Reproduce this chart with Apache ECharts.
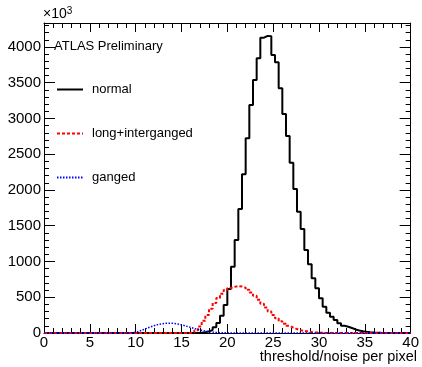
<!DOCTYPE html>
<html>
<head>
<meta charset="utf-8">
<script src="https://cdn.jsdelivr.net/npm/echarts@6/dist/echarts.min.js"></script>
<style>
  html, body { margin: 0; padding: 0; background: #fff; }
  #main { width: 422px; height: 367px; }
</style>
</head>
<body>
<div id="main"></div>
<script>
// histogram: 100 bins of 0.4 from 0 to 40, counts in units of 10^3
var binWidth = 0.4;
var nBins = 100;

// normal pixels, first non-empty bin = 42
var normalStart = 42;
var normalCounts = [5, 10, 20, 45, 80, 140, 240, 390, 615, 927,
  1300, 1734, 2219, 2723, 3189, 3538, 3842, 4130, 4155, 4150,
  3888, 3786, 3422, 3063, 2755, 2382, 2014, 1697, 1455, 1161,
  960, 765, 625, 485, 368, 284, 228, 182, 136, 102,
  88, 70, 50, 35, 25, 16, 10, 6, 4, 2, 1];

// long + interganged pixels, first bin = 40
var longStart = 40;
var longCounts = [10, 40, 90, 170, 250, 340, 420, 490, 550, 600,
  630, 645, 655, 650, 635, 605, 565, 520, 465, 410,
  355, 300, 250, 205, 165, 130, 100, 75, 55, 40,
  28, 20, 13, 8, 5, 3];

// ganged pixels, first bin = 23
var gangedStart = 23;
var gangedCounts = [3, 10, 25, 45, 65, 85, 102, 117, 128, 135,
  138, 136, 130, 120, 107, 93, 78, 63, 50, 38,
  28, 20, 13, 8, 5, 3, 2, 1];

var legendNames = ['normal', 'long+interganged', 'ganged'];

function histData(start, counts) {
  var out = [];
  var v = 0;
  for (var k = 0; k < nBins; k++) {
    v = (k >= start && k < start + counts.length) ? counts[k - start] : 0;
    out.push([+(k * binWidth).toFixed(1), v]);
  }
  out.push([40, v]);
  return out;
}

var font = 'Liberation Sans, Arial, Helvetica, sans-serif';
var chart = echarts.init(document.getElementById('main'), null, { renderer: 'canvas' });

function xAx(pos, labels) {
  return {
    type: 'value', position: pos, min: 0, max: 40, interval: 5,
    axisLine: { show: true, onZero: false, lineStyle: { color: '#000', width: 1 } },
    axisTick: { show: true, inside: true, length: 9, lineStyle: { color: '#000' } },
    minorTick: { show: true, splitNumber: 5, length: 5, lineStyle: { color: '#000' } },
    splitLine: { show: false },
    axisLabel: { show: labels, color: '#000', fontFamily: font, fontSize: 15, margin: 2 }
  };
}
function yAx(pos, labels) {
  return {
    type: 'value', position: pos, min: 0, max: 4335, interval: 500,
    axisLine: { show: true, onZero: false, lineStyle: { color: '#000', width: 1 } },
    axisTick: { show: true, inside: true, length: 11, lineStyle: { color: '#000' } },
    minorTick: { show: true, splitNumber: 5, length: 5, lineStyle: { color: '#000' } },
    splitLine: { show: false },
    axisLabel: {
      show: labels, color: '#000', fontFamily: font, fontSize: 15, margin: 3,
      showMaxLabel: false,
      formatter: function (v) { return v % 500 === 0 ? String(v) : ''; }
    }
  };
}

var option = {
  animation: false,
  backgroundColor: '#fff',
  grid: { left: 44, right: 6, top: 23, bottom: 34 },
  xAxis: [xAx('bottom', true), xAx('top', false)],
  yAxis: [yAx('left', true), yAx('right', false)],
  legend: {
    data: legendNames,
    orient: 'vertical',
    left: 56, top: 83, padding: 0,
    itemWidth: 26, itemHeight: 14, itemGap: 31,
    itemStyle: { opacity: 0 },
    textStyle: { color: '#000', fontFamily: font, fontSize: 13, padding: [0, 0, 0, 4] },
    selectedMode: false
  },
  graphic: [
    {
      type: 'text', left: 43, top: 6,
      style: { text: '×10{s|3}', fill: '#000', font: '14px ' + font,
        rich: { s: { fontSize: 10, verticalAlign: 'top', padding: [0, 0, 7, 0] } } }
    },
    {
      type: 'text', left: 54, top: 40,
      style: { text: 'ATLAS Preliminary', fill: '#000', font: '13px ' + font }
    },
    {
      type: 'text', right: 5, top: 349,
      style: { text: 'threshold/noise per pixel', fill: '#000', font: '14.5px ' + font }
    }
  ],
  series: [
    {
      name: 'normal', type: 'line', step: 'end', symbol: 'none',
      data: histData(normalStart, normalCounts),
      lineStyle: { color: '#000', width: 2 }, itemStyle: { color: '#000' },
      emphasis: { disabled: true }
    },
    {
      name: 'long+interganged', type: 'line', step: 'end', symbol: 'none',
      data: histData(longStart, longCounts),
      lineStyle: { color: '#ff0000', width: 2, type: [3, 2] }, itemStyle: { color: '#ff0000' },
      emphasis: { disabled: true }
    },
    {
      name: 'ganged', type: 'line', step: 'end', symbol: 'none',
      data: histData(gangedStart, gangedCounts),
      lineStyle: { color: '#0000ff', width: 1.5, type: [1.5, 1.5] }, itemStyle: { color: '#0000ff' },
      emphasis: { disabled: true }
    }
  ]
};

chart.setOption(option);
</script>
</body>
</html>
